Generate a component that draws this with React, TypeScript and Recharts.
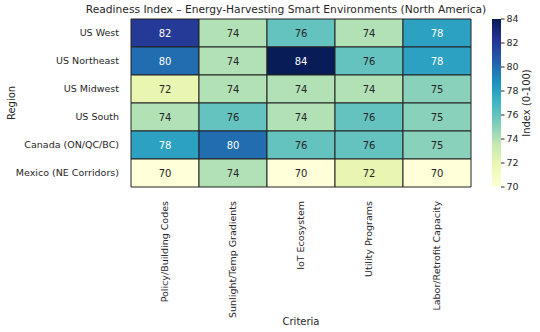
import React from 'react'
import { BarChart, Bar, XAxis, YAxis, Cell, LabelList } from 'recharts'

const regions = ['US West', 'US Northeast', 'US Midwest', 'US South', 'Canada (ON/QC/BC)', 'Mexico (NE Corridors)']
const criteria = ['Policy/Building Codes', 'Sunlight/Temp Gradients', 'IoT Ecosystem', 'Utility Programs', 'Labor/Retrofit Capacity']

const usWest = [82, 74, 76, 74, 78]
const usNortheast = [80, 74, 84, 76, 78]
const usMidwest = [72, 74, 74, 74, 75]
const usSouth = [74, 76, 74, 76, 75]
const canada = [78, 80, 76, 76, 75]
const mexico = [70, 74, 70, 72, 70]

const scores = [usWest, usNortheast, usMidwest, usSouth, canada, mexico]
const colorTicks = [70, 72, 74, 76, 78, 80, 82, 84]
const vMin = 70
const vMax = 84

// matplotlib YlGnBu
const ylgnbu = ['#ffffd9', '#edf8b1', '#c7e9b4', '#7fcdbb', '#41b6c4', '#1d91c0', '#225ea8', '#253494', '#081d58']

const hex = (h: string) => [1, 3, 5].map(i => parseInt(h.slice(i, i + 2), 16))

function rgbAt(t: number) {
  const p = Math.max(0, Math.min(1, t)) * (ylgnbu.length - 1)
  const i = Math.min(Math.floor(p), ylgnbu.length - 2)
  const f = p - i
  const a = hex(ylgnbu[i])
  const b = hex(ylgnbu[i + 1])
  return a.map((c, k) => Math.round(c + (b[k] - c) * f))
}

const colorOf = (v: number) => {
  const [r, g, b] = rgbAt((v - vMin) / (vMax - vMin))
  return `rgb(${r},${g},${b})`
}

const textOf = (v: number) => {
  const [r, g, b] = rgbAt((v - vMin) / (vMax - vMin)).map(c => {
    const s = c / 255
    return s <= 0.03928 ? s / 12.92 : Math.pow((s + 0.055) / 1.055, 2.4)
  })
  const lum = 0.2126 * r + 0.7152 * g + 0.0722 * b
  return lum > 0.408 ? '#262626' : '#ffffff'
}

// each cell gets width 1 in the stack, the score is kept for color + label
const rows = regions.map((region, i) => {
  const row: Record<string, any> = { region }
  criteria.forEach((_, j) => {
    row[`w${j}`] = 1
    row[`v${j}`] = scores[i][j]
  })
  return row
})

const FONT = '"DejaVu Sans", sans-serif'
const INK = '#262626'

const XTick = (props: any) => {
  const { x, y, payload } = props
  return (
    <text x={x} y={y} transform={`rotate(-90, ${x}, ${y})`} textAnchor="end" dy="0.35em"
      fontSize={9.5} fill={INK} fontFamily={FONT}>
      {criteria[Math.floor(payload.value)]}
    </text>
  )
}

const YTick = (props: any) => {
  const { x, y, payload } = props
  return (
    <text x={x} y={y} textAnchor="end" dy="0.35em" fontSize={9.5} fill={INK} fontFamily={FONT}>
      {payload.value}
    </text>
  )
}

const cellLabel = (props: any) => {
  const { x, y, width, height, value } = props
  return (
    <text x={x + width / 2} y={y + height / 2} dy="0.35em" textAnchor="middle"
      fontSize={10} fontFamily={FONT} fill={textOf(value)}>
      {value}
    </text>
  )
}

const regionLabel = (props: any) => {
  const { viewBox } = props
  const cx = 11
  const cy = viewBox.y + viewBox.height / 2
  return (
    <text x={cx} y={cy} transform={`rotate(-90, ${cx}, ${cy})`} textAnchor="middle" dy="0.35em"
      fontSize={10} fill={INK} fontFamily={FONT}>Region</text>
  )
}

const indexLabel = (props: any) => {
  const { viewBox } = props
  const cx = 46
  const cy = viewBox.y + viewBox.height / 2
  return (
    <text x={cx} y={cy} transform={`rotate(-90, ${cx}, ${cy})`} textAnchor="middle" dy="0.35em"
      fontSize={10} fill={INK} fontFamily={FONT}>Index (0-100)</text>
  )
}

const colorbarData = [{ name: 'cb', range: [vMin, vMax] }]

export default function App() {
  return (
    <div style={{ position: 'absolute', left: 0, top: 0, width: 540, height: 332, background: '#fff', fontFamily: FONT }}>
      <div style={{ position: 'absolute', left: 0, top: 0 }}>
        <BarChart width={540} height={332} data={rows} layout="vertical" barCategoryGap={0}
          margin={{ top: 19, right: 69, left: 0, bottom: 0 }}>
          <XAxis type="number" domain={[0, criteria.length]} ticks={criteria.map((_, j) => j + 0.5)}
            interval={0} height={145} axisLine={false} tickLine={false} tick={<XTick />} tickMargin={8}
            label={{ value: 'Criteria', position: 'insideBottom', offset: 7, fill: INK, fontSize: 10, fontFamily: FONT }} />
          <YAxis type="category" dataKey="region" width={131} axisLine={false} tickLine={false}
            tick={<YTick />} tickMargin={6} label={regionLabel} />
          {criteria.map((c, j) => (
            <Bar key={c} dataKey={`w${j}`} stackId="s" isAnimationActive={false}>
              {rows.map((r, i) => (
                <Cell key={i} fill={colorOf(scores[i][j])} stroke="#222" strokeWidth={1} />
              ))}
              <LabelList dataKey={`v${j}`} content={cellLabel} />
            </Bar>
          ))}
        </BarChart>
      </div>
      <div style={{ position: 'absolute', left: 480, top: 0 }}>
        <BarChart width={60} height={332} data={colorbarData} barCategoryGap={0}
          margin={{ top: 19, right: 0, left: 12, bottom: 145 }}>
          <defs>
            <linearGradient id="cbGrad" x1="0" y1="1" x2="0" y2="0">
              {ylgnbu.map((c, k) => (
                <stop key={k} offset={k / (ylgnbu.length - 1)} stopColor={c} />
              ))}
            </linearGradient>
          </defs>
          <XAxis dataKey="name" hide />
          <YAxis orientation="right" type="number" domain={[vMin, vMax]} ticks={colorTicks} width={39}
            axisLine={false} tickLine={{ stroke: INK }} tickSize={3.5} tickMargin={2}
            tick={{ fontSize: 9.5, fill: INK, fontFamily: FONT }} label={indexLabel} />
          <Bar dataKey="range" fill="url(#cbGrad)" isAnimationActive={false} />
        </BarChart>
      </div>
      <div style={{ position: 'absolute', left: 0, width: 572, top: 3, lineHeight: '14px', textAlign: 'center', fontSize: 10.7, color: INK, whiteSpace: 'nowrap', zIndex: 2 }}>
        Readiness Index – Energy-Harvesting Smart Environments (North America)
      </div>
    </div>
  )
}
